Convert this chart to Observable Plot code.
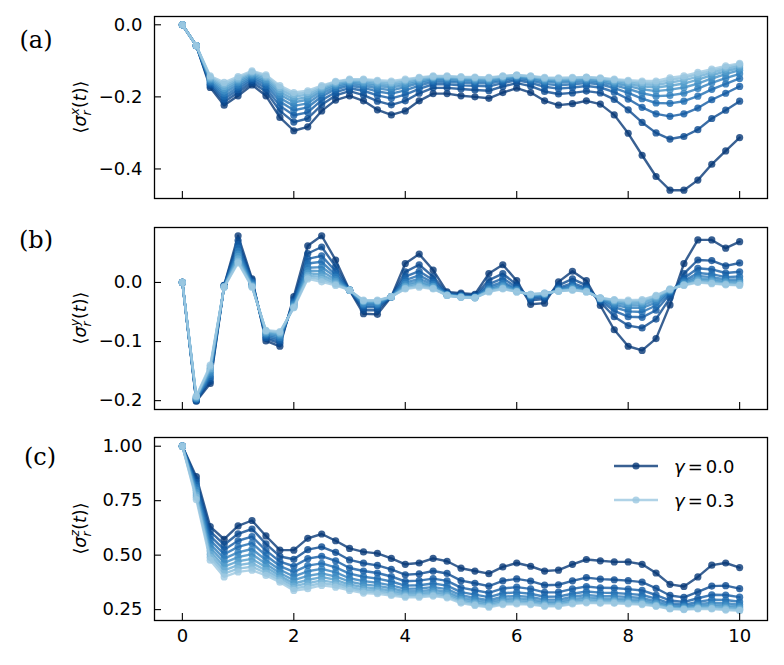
<!DOCTYPE html>
<html><head><meta charset="utf-8">
<script src="https://cdn.jsdelivr.net/npm/d3@7"></script>
<script src="https://cdn.jsdelivr.net/npm/@observablehq/plot@0.6"></script>
<style>
body{margin:0;background:#fff;}
#chart{width:784px;height:665px;position:relative;background:#fff;}
#chart svg{display:block;}
</style></head><body><div id="chart"></div>
<script>
// time grid
const times = [0,0.25,0.5,0.75,1,1.25,1.5,1.75,2,2.25,
  2.5,2.75,3,3.25,3.5,3.75,4,4.25,4.5,4.75,
  5,5.25,5.5,5.75,6,6.25,6.5,6.75,7,7.25,
  7.5,7.75,8,8.25,8.5,8.75,9,9.25,9.5,9.75,
  10];
const gammas = [0.0,0.0333,0.0667,0.1,0.1333,0.1667,0.2,0.2333,0.2667,0.3];
const xTicks = [0,2,4,6,8,10];
const yTicksA = [0,-0.2,-0.4];
const yTicksB = [0,-0.1,-0.2];
const yTicksC = [1,0.75,0.5,0.25];

// panel (a): <sigma_r^x(t)>
const sxA0 = [0,-0.058,-0.174,-0.223,-0.197,-0.167,-0.197,-0.257,-0.294,-0.283,-0.239,-0.209,-0.197,-0.211,-0.236,-0.250,-0.239,-0.211,-0.191,-0.191,-0.197,-0.200,-0.204,-0.188,-0.176,-0.188,-0.211,-0.223,-0.219,-0.211,-0.220,-0.250,-0.301,-0.362,-0.421,-0.459,-0.459,-0.431,-0.387,-0.350,-0.313];
const sxA1 = [0,-0.058,-0.169,-0.214,-0.188,-0.160,-0.185,-0.239,-0.270,-0.260,-0.222,-0.196,-0.184,-0.195,-0.212,-0.222,-0.211,-0.190,-0.175,-0.175,-0.178,-0.181,-0.183,-0.171,-0.162,-0.170,-0.185,-0.192,-0.189,-0.184,-0.189,-0.207,-0.236,-0.271,-0.300,-0.317,-0.310,-0.291,-0.260,-0.237,-0.212];
const sxA2 = [0,-0.058,-0.165,-0.206,-0.180,-0.154,-0.176,-0.225,-0.251,-0.243,-0.209,-0.187,-0.176,-0.183,-0.196,-0.204,-0.194,-0.178,-0.165,-0.165,-0.168,-0.169,-0.171,-0.162,-0.154,-0.161,-0.172,-0.177,-0.174,-0.170,-0.174,-0.187,-0.206,-0.229,-0.247,-0.254,-0.247,-0.231,-0.208,-0.190,-0.171];
const sxA3 = [0,-0.058,-0.161,-0.198,-0.173,-0.149,-0.168,-0.213,-0.237,-0.229,-0.199,-0.179,-0.169,-0.175,-0.185,-0.191,-0.182,-0.169,-0.158,-0.158,-0.161,-0.162,-0.163,-0.156,-0.150,-0.155,-0.164,-0.168,-0.165,-0.162,-0.165,-0.176,-0.189,-0.205,-0.217,-0.218,-0.212,-0.198,-0.179,-0.164,-0.149];
const sxA4 = [0,-0.058,-0.158,-0.190,-0.167,-0.145,-0.161,-0.203,-0.225,-0.218,-0.191,-0.174,-0.164,-0.169,-0.176,-0.182,-0.173,-0.162,-0.154,-0.154,-0.156,-0.157,-0.158,-0.152,-0.146,-0.151,-0.158,-0.161,-0.159,-0.157,-0.160,-0.168,-0.178,-0.190,-0.198,-0.196,-0.190,-0.177,-0.161,-0.148,-0.136];
const sxA5 = [0,-0.058,-0.154,-0.184,-0.161,-0.141,-0.156,-0.194,-0.215,-0.208,-0.185,-0.169,-0.161,-0.164,-0.170,-0.174,-0.167,-0.158,-0.150,-0.150,-0.152,-0.154,-0.155,-0.149,-0.144,-0.148,-0.155,-0.157,-0.155,-0.153,-0.156,-0.163,-0.170,-0.179,-0.184,-0.180,-0.174,-0.163,-0.149,-0.137,-0.126];
const sxA6 = [0,-0.058,-0.151,-0.177,-0.156,-0.137,-0.151,-0.187,-0.207,-0.201,-0.180,-0.165,-0.158,-0.160,-0.165,-0.168,-0.162,-0.154,-0.147,-0.147,-0.150,-0.151,-0.152,-0.147,-0.142,-0.146,-0.152,-0.154,-0.152,-0.150,-0.153,-0.159,-0.165,-0.171,-0.174,-0.169,-0.163,-0.152,-0.140,-0.129,-0.120];
const sxA7 = [0,-0.058,-0.148,-0.171,-0.152,-0.134,-0.146,-0.180,-0.199,-0.194,-0.176,-0.162,-0.155,-0.156,-0.161,-0.163,-0.157,-0.151,-0.145,-0.145,-0.147,-0.148,-0.149,-0.145,-0.141,-0.145,-0.149,-0.151,-0.150,-0.148,-0.150,-0.156,-0.160,-0.165,-0.167,-0.160,-0.154,-0.144,-0.133,-0.123,-0.114];
const sxA8 = [0,-0.058,-0.145,-0.165,-0.148,-0.131,-0.143,-0.174,-0.193,-0.188,-0.172,-0.159,-0.153,-0.153,-0.157,-0.160,-0.154,-0.148,-0.144,-0.144,-0.146,-0.147,-0.148,-0.143,-0.140,-0.143,-0.148,-0.149,-0.148,-0.146,-0.149,-0.153,-0.157,-0.160,-0.161,-0.153,-0.147,-0.137,-0.128,-0.118,-0.110];
const sxA9 = [0,-0.058,-0.142,-0.160,-0.144,-0.128,-0.139,-0.169,-0.188,-0.183,-0.169,-0.157,-0.151,-0.151,-0.154,-0.156,-0.151,-0.146,-0.142,-0.142,-0.144,-0.145,-0.146,-0.142,-0.139,-0.142,-0.146,-0.147,-0.146,-0.145,-0.147,-0.151,-0.154,-0.156,-0.156,-0.147,-0.142,-0.132,-0.123,-0.114,-0.107];

// panel (b): <sigma_r^y(t)>
const syB0 = [0,-0.201,-0.171,-0.005,0.079,0.006,-0.099,-0.108,-0.024,0.062,0.079,0.038,-0.013,-0.053,-0.054,-0.024,0.032,0.048,0.021,-0.016,-0.018,-0.020,0.015,0.030,0.003,-0.037,-0.035,0.001,0.019,0.003,-0.039,-0.080,-0.108,-0.115,-0.095,-0.038,0.032,0.072,0.072,0.058,0.069];
const syB1 = [0,-0.200,-0.167,-0.005,0.071,0.004,-0.095,-0.103,-0.028,0.049,0.060,0.027,-0.013,-0.047,-0.047,-0.024,0.018,0.030,0.010,-0.018,-0.020,-0.022,0.004,0.015,-0.004,-0.030,-0.028,-0.005,0.006,-0.005,-0.033,-0.058,-0.073,-0.077,-0.062,-0.026,0.015,0.038,0.037,0.028,0.033];
const syB2 = [0,-0.199,-0.162,-0.006,0.064,0.001,-0.093,-0.099,-0.032,0.040,0.045,0.019,-0.013,-0.042,-0.042,-0.024,0.010,0.019,0.004,-0.019,-0.022,-0.023,-0.003,0.007,-0.008,-0.027,-0.025,-0.009,-0.001,-0.009,-0.031,-0.048,-0.058,-0.059,-0.047,-0.020,0.007,0.024,0.022,0.016,0.018];
const syB3 = [0,-0.198,-0.159,-0.006,0.058,0.000,-0.090,-0.096,-0.034,0.032,0.035,0.013,-0.013,-0.039,-0.039,-0.024,0.004,0.012,0.000,-0.020,-0.023,-0.024,-0.007,0.001,-0.011,-0.025,-0.023,-0.011,-0.005,-0.011,-0.029,-0.042,-0.049,-0.050,-0.039,-0.017,0.003,0.016,0.014,0.009,0.010];
const syB4 = [0,-0.197,-0.155,-0.007,0.053,-0.002,-0.088,-0.093,-0.036,0.025,0.026,0.009,-0.013,-0.037,-0.037,-0.024,0.000,0.006,-0.003,-0.021,-0.023,-0.025,-0.010,-0.002,-0.012,-0.023,-0.021,-0.012,-0.007,-0.013,-0.028,-0.038,-0.043,-0.043,-0.034,-0.015,0.001,0.011,0.009,0.005,0.005];
const syB5 = [0,-0.196,-0.152,-0.007,0.048,-0.004,-0.086,-0.090,-0.038,0.020,0.019,0.005,-0.013,-0.035,-0.035,-0.024,-0.003,0.002,-0.006,-0.021,-0.024,-0.025,-0.012,-0.005,-0.013,-0.022,-0.020,-0.013,-0.009,-0.014,-0.028,-0.035,-0.039,-0.039,-0.030,-0.014,-0.001,0.007,0.005,0.002,0.002];
const syB6 = [0,-0.195,-0.148,-0.007,0.044,-0.005,-0.085,-0.088,-0.040,0.016,0.013,0.002,-0.013,-0.033,-0.033,-0.024,-0.006,-0.001,-0.007,-0.021,-0.024,-0.025,-0.013,-0.007,-0.014,-0.022,-0.019,-0.014,-0.010,-0.015,-0.027,-0.033,-0.036,-0.035,-0.027,-0.013,-0.003,0.005,0.003,0.000,-0.001];
const syB7 = [0,-0.194,-0.146,-0.007,0.040,-0.006,-0.083,-0.086,-0.041,0.012,0.009,-0.001,-0.013,-0.032,-0.032,-0.024,-0.008,-0.004,-0.009,-0.022,-0.025,-0.026,-0.014,-0.009,-0.015,-0.021,-0.019,-0.014,-0.012,-0.015,-0.027,-0.031,-0.033,-0.033,-0.025,-0.012,-0.004,0.003,0.001,-0.002,-0.002];
const syB8 = [0,-0.193,-0.143,-0.008,0.036,-0.007,-0.082,-0.085,-0.042,0.009,0.005,-0.003,-0.013,-0.031,-0.031,-0.024,-0.010,-0.006,-0.010,-0.022,-0.025,-0.026,-0.015,-0.010,-0.016,-0.020,-0.018,-0.015,-0.012,-0.016,-0.026,-0.030,-0.032,-0.031,-0.023,-0.012,-0.004,0.001,-0.001,-0.003,-0.004];
const syB9 = [0,-0.192,-0.140,-0.008,0.033,-0.008,-0.081,-0.083,-0.043,0.006,0.001,-0.005,-0.013,-0.030,-0.030,-0.024,-0.011,-0.008,-0.011,-0.022,-0.025,-0.026,-0.016,-0.011,-0.016,-0.020,-0.018,-0.015,-0.013,-0.016,-0.026,-0.029,-0.030,-0.029,-0.022,-0.011,-0.005,0.000,-0.002,-0.004,-0.005];

// panel (c): <sigma_r^z(t)>
const szC0 = [1,0.860,0.631,0.573,0.634,0.659,0.588,0.523,0.523,0.577,0.597,0.566,0.531,0.515,0.508,0.485,0.458,0.464,0.485,0.472,0.440,0.427,0.415,0.446,0.464,0.449,0.427,0.431,0.458,0.480,0.474,0.469,0.469,0.458,0.418,0.366,0.356,0.400,0.454,0.464,0.443];
const szC1 = [1,0.846,0.609,0.548,0.598,0.620,0.552,0.494,0.481,0.525,0.538,0.513,0.478,0.463,0.453,0.435,0.410,0.414,0.427,0.416,0.383,0.371,0.358,0.382,0.391,0.381,0.362,0.364,0.382,0.397,0.390,0.387,0.383,0.376,0.348,0.315,0.306,0.331,0.358,0.360,0.346];
const szC2 = [1,0.834,0.588,0.525,0.566,0.585,0.522,0.470,0.449,0.484,0.495,0.474,0.441,0.427,0.418,0.402,0.380,0.383,0.392,0.382,0.351,0.339,0.327,0.347,0.353,0.345,0.329,0.330,0.345,0.356,0.350,0.349,0.344,0.338,0.317,0.292,0.285,0.302,0.318,0.317,0.307];
const szC3 = [1,0.821,0.569,0.504,0.538,0.555,0.498,0.450,0.423,0.452,0.462,0.444,0.415,0.401,0.392,0.379,0.360,0.362,0.370,0.360,0.330,0.319,0.307,0.325,0.329,0.323,0.309,0.310,0.323,0.333,0.328,0.326,0.322,0.317,0.300,0.279,0.273,0.285,0.296,0.294,0.286];
const szC4 = [1,0.810,0.551,0.484,0.513,0.528,0.477,0.433,0.402,0.426,0.437,0.421,0.394,0.381,0.373,0.361,0.345,0.347,0.353,0.344,0.316,0.304,0.293,0.309,0.313,0.308,0.296,0.296,0.309,0.317,0.312,0.312,0.308,0.303,0.289,0.271,0.266,0.275,0.282,0.279,0.273];
const szC5 = [1,0.798,0.535,0.465,0.491,0.505,0.459,0.418,0.385,0.405,0.416,0.402,0.378,0.366,0.359,0.348,0.334,0.335,0.341,0.332,0.305,0.294,0.284,0.298,0.302,0.297,0.286,0.287,0.298,0.306,0.302,0.301,0.297,0.294,0.281,0.265,0.261,0.268,0.273,0.269,0.264];
const szC6 = [1,0.787,0.519,0.447,0.472,0.483,0.444,0.406,0.370,0.386,0.399,0.387,0.365,0.353,0.347,0.337,0.325,0.326,0.331,0.323,0.297,0.285,0.276,0.290,0.293,0.289,0.279,0.279,0.291,0.297,0.294,0.293,0.290,0.286,0.276,0.261,0.257,0.263,0.266,0.262,0.257];
const szC7 = [1,0.776,0.504,0.430,0.454,0.464,0.430,0.395,0.358,0.371,0.384,0.374,0.355,0.342,0.338,0.328,0.318,0.318,0.324,0.315,0.290,0.279,0.270,0.283,0.286,0.283,0.273,0.274,0.285,0.291,0.288,0.288,0.284,0.281,0.271,0.258,0.254,0.259,0.261,0.256,0.252];
const szC8 = [1,0.766,0.490,0.415,0.438,0.447,0.418,0.385,0.347,0.358,0.372,0.363,0.346,0.334,0.330,0.321,0.312,0.312,0.317,0.309,0.285,0.273,0.265,0.278,0.281,0.277,0.269,0.269,0.280,0.285,0.283,0.283,0.280,0.277,0.268,0.255,0.252,0.256,0.256,0.252,0.248];
const szC9 = [1,0.755,0.477,0.400,0.423,0.431,0.407,0.376,0.338,0.346,0.361,0.353,0.338,0.326,0.323,0.315,0.307,0.307,0.312,0.304,0.280,0.269,0.261,0.273,0.276,0.273,0.265,0.265,0.276,0.281,0.279,0.279,0.276,0.273,0.265,0.253,0.250,0.253,0.253,0.248,0.245];

const seriesA = [sxA0,sxA1,sxA2,sxA3,sxA4,sxA5,sxA6,sxA7,sxA8,sxA9];
const seriesB = [syB0,syB1,syB2,syB3,syB4,syB5,syB6,syB7,syB8,syB9];
const seriesC = [szC0,szC1,szC2,szC3,szC4,szC5,szC6,szC7,szC8,szC9];

const colors = gammas.map((g, i) => d3.interpolateBlues(0.97 - i * 0.066));
const W = 784, ML = 154, MR = 17;
const FONT = "DejaVu Sans";
const FS = 18;

function makePanel(cfg) {
  const frameH = cfg.height - cfg.mt - cfg.mb, frameW = W - ML - MR;
  const marks = [];
  cfg.series.forEach((vals, i) => {
    const data = times.map((tt, j) => ({t: tt, v: vals[j], gamma: gammas[i]}));
    marks.push(Plot.line(data, {x: "t", y: "v", stroke: colors[i], strokeWidth: 2.4, strokeOpacity: 0.8}));
    marks.push(Plot.dot(data, {x: "t", y: "v", r: 3.6, fill: colors[i], fillOpacity: 0.8, stroke: "none"}));
  });
  marks.push(Plot.ruleX(xTicks, {x: d => d, insetTop: frameH - 7, stroke: "#000", strokeWidth: 1.1}));
  marks.push(Plot.ruleY(cfg.yTicks, {y: d => d, insetRight: frameW - 7, stroke: "#000", strokeWidth: 1.1}));
  marks.push(Plot.axisY(cfg.yTicks, {tickSize: 0, tickPadding: 12, tickFormat: cfg.fmt, label: null, fontSize: FS}));
  if (cfg.showX) marks.push(Plot.axisX(xTicks, {tickSize: 0, tickPadding: 9, tickFormat: d => String(d), label: null, fontSize: FS}));
  marks.push(Plot.frame({stroke: "#000", strokeWidth: 1.3}));
  const svg = Plot.plot({
    width: W, height: cfg.height,
    marginLeft: ML, marginRight: MR, marginTop: cfg.mt, marginBottom: cfg.mb,
    x: cfg.showX ? {domain: [-0.5, 10.5]} : {domain: [-0.5, 10.5], axis: null},
    y: {domain: cfg.yDomain},
    style: {fontFamily: FONT, fontSize: FS + "px", color: "#000", background: "transparent", overflow: "visible"},
    marks
  });
  const s = d3.select(svg);
  // panel letter
  s.append("text").attr("x", cfg.letterX).attr("y", cfg.letterY)
    .attr("text-anchor", "middle").attr("font-family", "DejaVu Serif")
    .attr("font-size", 24).attr("fill", "#000").text(cfg.letter);
  // y label  <sigma_r^comp(t)>
  const cy = cfg.mt + frameH / 2;
  const tx = s.append("text").attr("transform", `translate(86,${cy}) rotate(-90)`)
    .attr("text-anchor", "middle").attr("font-family", FONT).attr("font-size", 17.5).attr("fill", "#000");
  tx.append("tspan").text("\u27E8");
  tx.append("tspan").attr("font-style", "italic").text("\u03C3");
  tx.append("tspan").attr("font-style", "italic").attr("font-size", 12.5).attr("dy", 4.5).text("r");
  tx.append("tspan").attr("font-style", "italic").attr("font-size", 12.5).attr("dx", -5).attr("dy", -11.5).text(cfg.comp);
  tx.append("tspan").attr("dy", 7).text("(");
  tx.append("tspan").attr("font-style", "italic").text("t");
  tx.append("tspan").text(")\u27E9");
  return svg;
}

const root = document.getElementById("chart");
const svgA = makePanel({series: seriesA, yDomain: [-0.482, 0.023], yTicks: yTicksA, fmt: d3.format(".1f"),
  height: 210, mt: 16, mb: 12, showX: false, letter: "(a)", letterX: 36, letterY: 48, comp: "x"});
const svgB = makePanel({series: seriesB, yDomain: [-0.215, 0.093], yTicks: yTicksB, fmt: d3.format(".1f"),
  height: 210, mt: 17, mb: 11, showX: false, letter: "(b)", letterX: 36, letterY: 38, comp: "y"});
const svgC = makePanel({series: seriesC, yDomain: [0.2, 1.04], yTicks: yTicksC, fmt: d3.format(".2f"),
  height: 245, mt: 17, mb: 45, showX: true, letter: "(c)", letterX: 40, letterY: 45, comp: "z"});
root.append(svgA, svgB, svgC);

// legend inside panel (c)
const lg = d3.select(svgC).append("g");
[[0, 46], [gammas.length - 1, 80]].forEach(([i, y]) => {
  lg.append("line").attr("x1", 614).attr("x2", 658).attr("y1", y).attr("y2", y)
    .attr("stroke", colors[i]).attr("stroke-width", 2.4).attr("stroke-opacity", 0.8);
  lg.append("circle").attr("cx", 636).attr("cy", y).attr("r", 3.6)
    .attr("fill", colors[i]).attr("fill-opacity", 0.8);
  const t = lg.append("text").attr("x", 674).attr("y", y + 6.5)
    .attr("text-anchor", "start")
    .attr("font-family", FONT).attr("font-size", FS).attr("fill", "#000");
  t.append("tspan").attr("font-style", "italic").text("\u03B3");
  t.append("tspan").attr("dx", 3).text("=");
  t.append("tspan").attr("dx", 3).text(gammas[i].toFixed(1));
});
</script>
</body></html>
